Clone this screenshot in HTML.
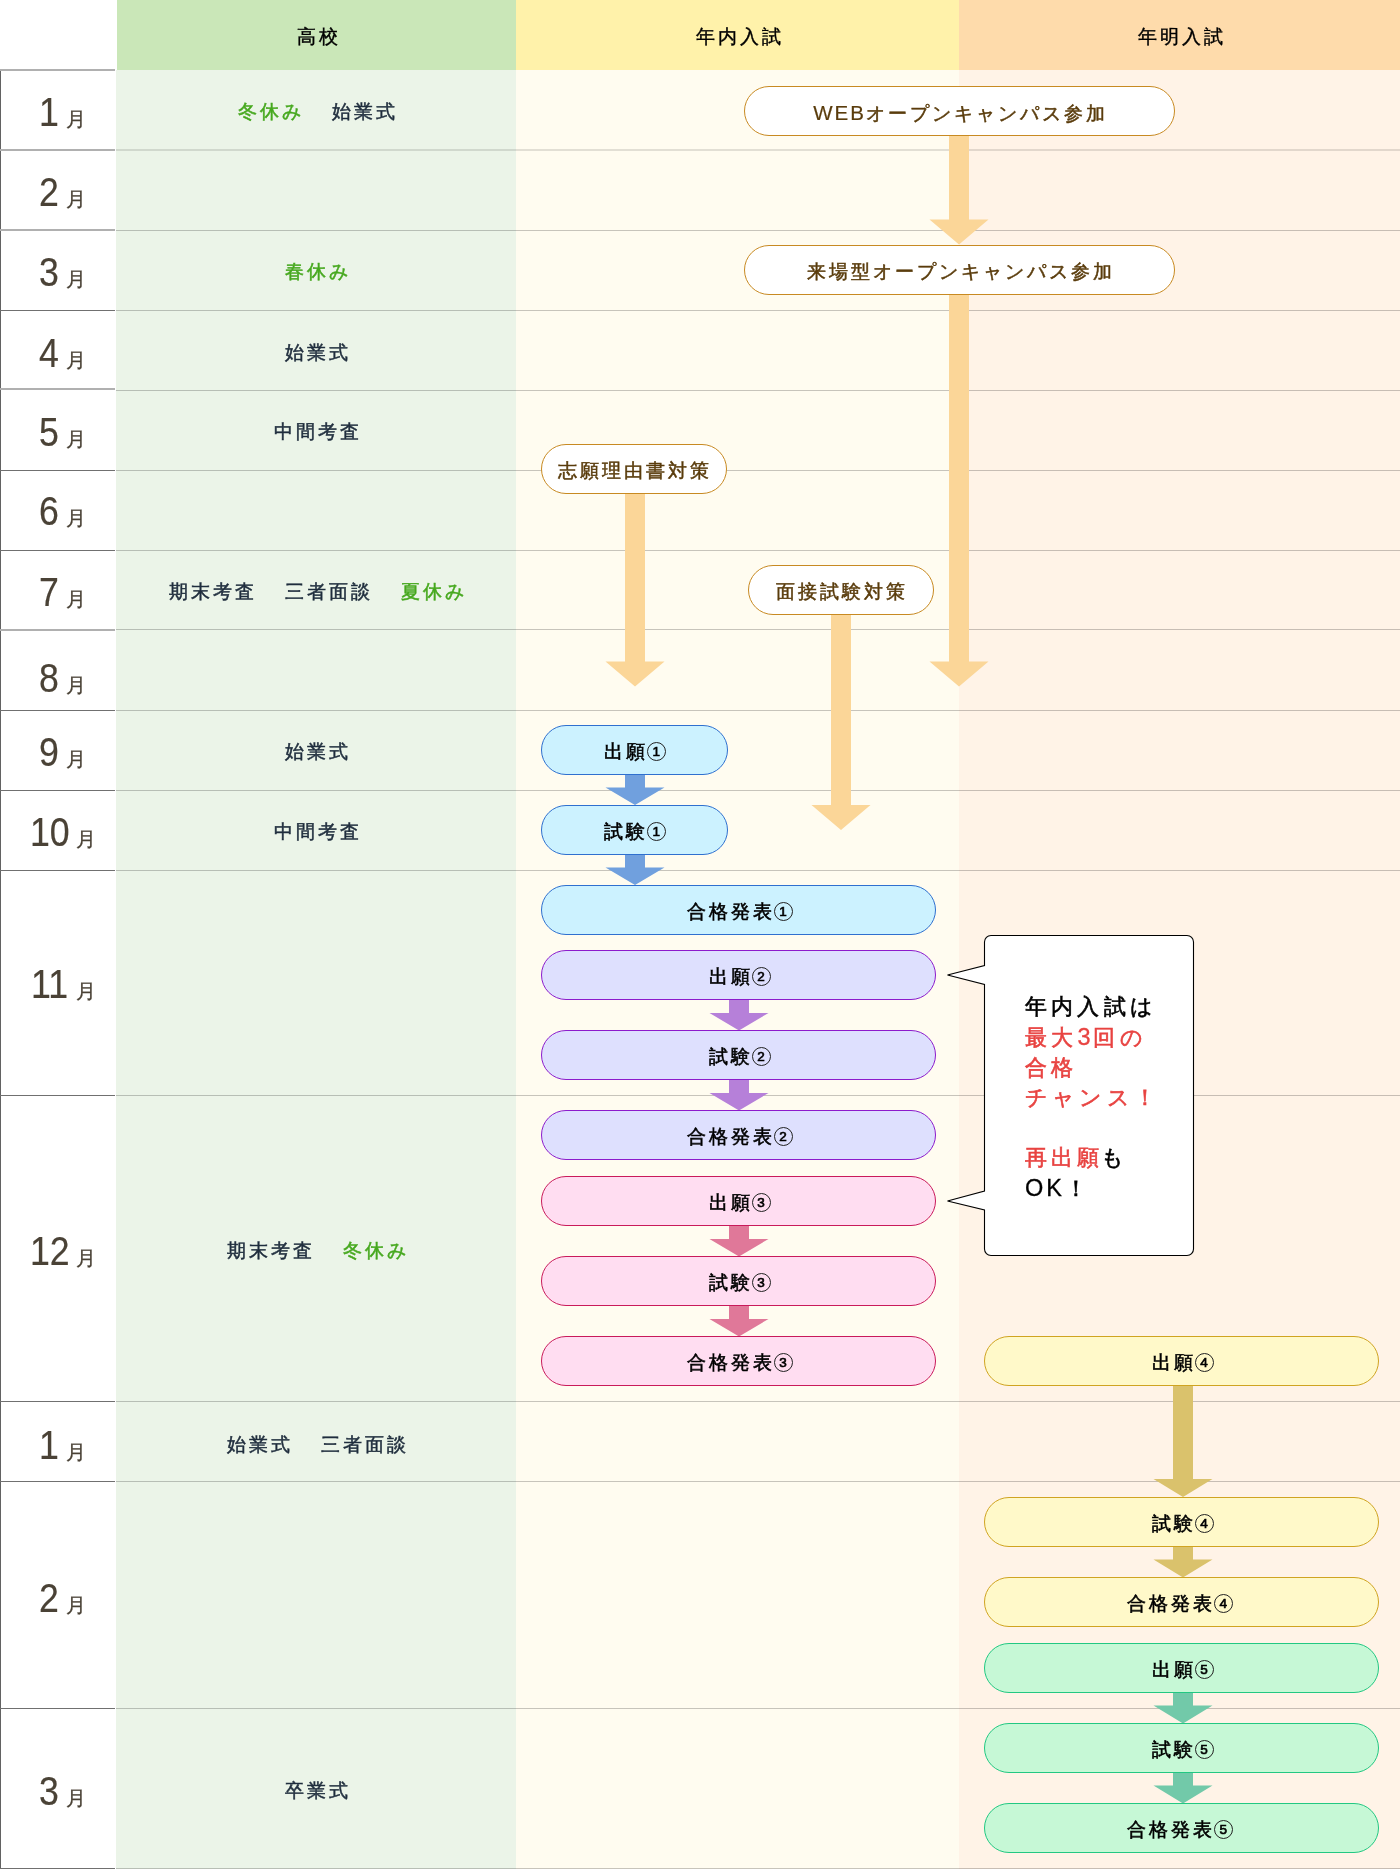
<!DOCTYPE html>
<html lang="ja">
<head>
<meta charset="utf-8">
<style>
*{box-sizing:border-box;margin:0;padding:0}
html,body{width:1400px;height:1869px;overflow:hidden;background:#fff}
body{position:relative;font-family:"Liberation Sans",sans-serif;color:#111}
.a{position:absolute}
.hd{position:absolute;top:0;height:70px;line-height:70px;text-align:center;font-size:19px;letter-spacing:3px;color:#000;-webkit-text-stroke:0.4px #000;padding-left:5px;padding-top:2px}
.bg{position:absolute;top:70px;height:1799px}
.ml{position:absolute;left:0;width:116px;height:2px;background:#adadad}
.rl{position:absolute;left:116px;width:1284px;height:1px;background:#c4c4bc}
.mo{position:absolute;left:0;width:116px;text-align:center;color:#4a4236;white-space:nowrap;padding-left:9px;padding-top:1px}
.mo b{display:inline-block;font-weight:400;font-size:41px;letter-spacing:0;transform:scaleX(0.87);transform-origin:0 50%;-webkit-text-stroke:0.2px #4a4236}
.mo i{font-style:normal;font-size:20px;margin-left:7px;-webkit-text-stroke:0.3px #4a4236}
.sc{position:absolute;left:116px;width:400px;text-align:center;font-size:19px;letter-spacing:3px;color:#1f2d3d;white-space:nowrap;-webkit-text-stroke:0.5px #1f2d3d;padding-top:1px;padding-left:3px}
.sc .g{color:#46a81e;-webkit-text-stroke:0.5px #46a81e}
.sc span+span{margin-left:28px}
.bx{position:absolute;height:50px;border-radius:25px;border:1px solid;text-align:center;line-height:48px;font-size:19px;letter-spacing:3px;white-space:nowrap;color:#000;-webkit-text-stroke:0.55px currentColor;padding-top:2px;padding-left:2px}
.w{background:#fff;border-color:#c88a22;color:#5a3c0c}
.b1{background:#ccf2ff;border-color:#2f70cf}
.p2{background:#dee0fe;border-color:#8c1ccc}
.k3{background:#ffddf1;border-color:#c91a5b}
.y4{background:#fff9c9;border-color:#d0a421}
.y4o{background:#fff9c9;border-color:#d0a421}
.g5{background:#c6f8d6;border-color:#22c882}
.bub{position:absolute;left:1025px;top:992px;font-size:22px;line-height:30px;letter-spacing:4.2px;color:#000;white-space:nowrap;-webkit-text-stroke:0.6px currentColor}
.bub .r{color:#e84341}
#wrap{position:absolute;left:0;top:0;width:1400px;height:1869px;will-change:transform;background:#fff}
.cn{display:inline-block;width:19px;height:19px;border:1px solid #222;border-radius:50%;font-size:13.5px;line-height:17px;text-align:center;letter-spacing:0;-webkit-text-stroke:0.65px #000;vertical-align:2px;margin-left:-1px;text-indent:0;position:relative;top:0}
.w{-webkit-text-stroke:0.5px currentColor}
.lat{font-size:20.5px;-webkit-text-stroke:0.2px currentColor;letter-spacing:2px}
.bl{font-size:23.5px;-webkit-text-stroke:0.3px currentColor;letter-spacing:3px}

</style>
</head>
<body>
<div id="wrap">
<div class="a" style="left:117px;top:0;width:399px;height:70px;background:#cae7b8"></div>
<div class="a" style="left:516px;top:0;width:443px;height:70px;background:#fff2aa"></div>
<div class="a" style="left:959px;top:0;width:441px;height:70px;background:#fedbab"></div>
<div class="bg" style="left:116px;width:400px;background:#ebf4e8"></div>
<div class="bg" style="left:516px;width:443px;background:#fffcf0"></div>
<div class="bg" style="left:959px;width:441px;background:#fff3e7"></div>
<div class="hd" style="left:116px;width:400px">高校</div>
<div class="hd" style="left:516px;width:443px">年内入試</div>
<div class="hd" style="left:959px;width:441px">年明入試</div>
<div class="a" style="left:0;top:71px;width:1px;height:1798px;background:#626262"></div>
<div class="a" style="left:0;top:69px;width:115px;height:2px;background:#b0b0b0"></div>
<div class="a" style="left:0;top:149px;width:115px;height:2px;background:#b0b0b0"></div>
<div class="a" style="left:0;top:229px;width:115px;height:2px;background:#b0b0b0"></div>
<div class="a" style="left:0;top:310px;width:115px;height:1px;background:#707070"></div>
<div class="a" style="left:0;top:388px;width:115px;height:2px;background:#b0b0b0"></div>
<div class="a" style="left:0;top:470px;width:115px;height:1px;background:#707070"></div>
<div class="a" style="left:0;top:550px;width:115px;height:1px;background:#707070"></div>
<div class="a" style="left:0;top:629px;width:115px;height:2px;background:#b0b0b0"></div>
<div class="a" style="left:0;top:710px;width:115px;height:1px;background:#707070"></div>
<div class="a" style="left:0;top:790px;width:115px;height:1px;background:#707070"></div>
<div class="a" style="left:0;top:870px;width:115px;height:1px;background:#707070"></div>
<div class="a" style="left:0;top:1095px;width:115px;height:1px;background:#707070"></div>
<div class="a" style="left:0;top:1401px;width:115px;height:1px;background:#707070"></div>
<div class="a" style="left:0;top:1481px;width:115px;height:1px;background:#707070"></div>
<div class="a" style="left:0;top:1708px;width:115px;height:1px;background:#707070"></div>
<div class="a" style="left:0;top:1868px;width:115px;height:1px;background:#707070"></div>
<div class="a" style="left:116px;top:149px;width:1284px;height:2px;background:rgba(0,0,0,0.115)"></div>
<div class="a" style="left:116px;top:230px;width:1284px;height:1px;background:rgba(0,0,0,0.22)"></div>
<div class="a" style="left:116px;top:310px;width:1284px;height:1px;background:rgba(0,0,0,0.22)"></div>
<div class="a" style="left:116px;top:390px;width:1284px;height:1px;background:rgba(0,0,0,0.22)"></div>
<div class="a" style="left:116px;top:470px;width:1284px;height:1px;background:rgba(0,0,0,0.22)"></div>
<div class="a" style="left:116px;top:550px;width:1284px;height:1px;background:rgba(0,0,0,0.22)"></div>
<div class="a" style="left:116px;top:629px;width:1284px;height:1px;background:rgba(0,0,0,0.22)"></div>
<div class="a" style="left:116px;top:710px;width:1284px;height:1px;background:rgba(0,0,0,0.22)"></div>
<div class="a" style="left:116px;top:790px;width:1284px;height:1px;background:rgba(0,0,0,0.22)"></div>
<div class="a" style="left:116px;top:870px;width:1284px;height:1px;background:rgba(0,0,0,0.22)"></div>
<div class="a" style="left:116px;top:1095px;width:1284px;height:1px;background:rgba(0,0,0,0.22)"></div>
<div class="a" style="left:116px;top:1401px;width:1284px;height:1px;background:rgba(0,0,0,0.22)"></div>
<div class="a" style="left:116px;top:1481px;width:1284px;height:1px;background:rgba(0,0,0,0.22)"></div>
<div class="a" style="left:116px;top:1708px;width:1284px;height:1px;background:rgba(0,0,0,0.22)"></div>
<div class="a" style="left:116px;top:1868px;width:1284px;height:1px;background:rgba(0,0,0,0.22)"></div>
<div class="mo" style="top:70.5px;height:80px;line-height:80px;padding-left:9px"><b style="margin-right:-2.96px">1</b><i>月</i></div>
<div class="mo" style="top:151px;height:80px;line-height:80px;padding-left:9px"><b style="margin-right:-2.96px">2</b><i>月</i></div>
<div class="mo" style="top:231px;height:80px;line-height:80px;padding-left:9px"><b style="margin-right:-2.96px">3</b><i>月</i></div>
<div class="mo" style="top:312px;height:80px;line-height:80px;padding-left:9px"><b style="margin-right:-2.96px">4</b><i>月</i></div>
<div class="mo" style="top:391px;height:80px;line-height:80px;padding-left:9px"><b style="margin-right:-2.96px">5</b><i>月</i></div>
<div class="mo" style="top:470px;height:80px;line-height:80px;padding-left:9px"><b style="margin-right:-2.96px">6</b><i>月</i></div>
<div class="mo" style="top:550.5px;height:80px;line-height:80px;padding-left:9px"><b style="margin-right:-2.96px">7</b><i>月</i></div>
<div class="mo" style="top:636.5px;height:80px;line-height:80px;padding-left:9px"><b style="margin-right:-2.96px">8</b><i>月</i></div>
<div class="mo" style="top:711px;height:80px;line-height:80px;padding-left:9px"><b style="margin-right:-2.96px">9</b><i>月</i></div>
<div class="mo" style="top:791px;height:80px;line-height:80px;padding-left:10px"><b style="margin-right:-5.93px">10</b><i>月</i></div>
<div class="mo" style="top:871px;height:225px;line-height:225px;padding-left:11px"><b style="margin-right:-4.43px">11</b><i>月</i></div>
<div class="mo" style="top:1096.5px;height:306px;line-height:306px;padding-left:10px"><b style="margin-right:-5.93px">12</b><i>月</i></div>
<div class="mo" style="top:1403.5px;height:80px;line-height:80px;padding-left:9px"><b style="margin-right:-2.96px">1</b><i>月</i></div>
<div class="mo" style="top:1484px;height:227px;line-height:227px;padding-left:9px"><b style="margin-right:-2.96px">2</b><i>月</i></div>
<div class="mo" style="top:1710px;height:160px;line-height:160px;padding-left:9px"><b style="margin-right:-2.96px">3</b><i>月</i></div>
<div class="sc" style="top:70.5px;height:80.0px;line-height:80.0px"><span class="g">冬休み</span><span class="">始業式</span></div>
<div class="sc" style="top:231px;height:80px;line-height:80px"><span class="g">春休み</span></div>
<div class="sc" style="top:312px;height:80px;line-height:80px"><span class="">始業式</span></div>
<div class="sc" style="top:391px;height:80px;line-height:80px"><span class="">中間考査</span></div>
<div class="sc" style="top:550.5px;height:80.0px;line-height:80.0px"><span class="">期末考査</span><span class="">三者面談</span><span class="g">夏休み</span></div>
<div class="sc" style="top:711px;height:80px;line-height:80px"><span class="">始業式</span></div>
<div class="sc" style="top:791px;height:80px;line-height:80px"><span class="">中間考査</span></div>
<div class="sc" style="top:1096.5px;height:306.0px;line-height:306.0px"><span class="">期末考査</span><span class="g">冬休み</span></div>
<div class="sc" style="top:1403.5px;height:80.0px;line-height:80.0px"><span class="">始業式</span><span class="">三者面談</span></div>
<div class="sc" style="top:1710px;height:160px;line-height:160px"><span class="">卒業式</span></div>
<svg class="a" style="left:928px;top:135px;overflow:visible" width="62" height="110" viewBox="0 0 62 110"><path d="M21.0,0H41.0V84.5H60.5L31,109.5L1.5,84.5H21.0Z" fill="#fbd698"/></svg>
<svg class="a" style="left:928px;top:294px;overflow:visible" width="62" height="393" viewBox="0 0 62 393"><path d="M21.0,0H41.0V367.5H60.5L31,392.5L1.5,367.5H21.0Z" fill="#fbd698"/></svg>
<svg class="a" style="left:604px;top:493px;overflow:visible" width="62" height="194" viewBox="0 0 62 194"><path d="M21.0,0H41.0V168.5H60.5L31,193.5L1.5,168.5H21.0Z" fill="#fbd698"/></svg>
<svg class="a" style="left:810px;top:614px;overflow:visible" width="62" height="216" viewBox="0 0 62 216"><path d="M21.0,0H41.0V191H60.5L31,216L1.5,191H21.0Z" fill="#fbd698"/></svg>
<svg class="a" style="left:604px;top:774px;overflow:visible" width="62" height="31" viewBox="0 0 62 31"><path d="M21.0,0H41.0V13.5H60.5L31,31L1.5,13.5H21.0Z" fill="#70a0de"/></svg>
<svg class="a" style="left:604px;top:854px;overflow:visible" width="62" height="31" viewBox="0 0 62 31"><path d="M21.0,0H41.0V13.5H60.5L31,31L1.5,13.5H21.0Z" fill="#70a0de"/></svg>
<svg class="a" style="left:708px;top:999px;overflow:visible" width="62" height="32" viewBox="0 0 62 32"><path d="M21.0,0H41.0V14.0H60.5L31,31.5L1.5,14.0H21.0Z" fill="#b680d9"/></svg>
<svg class="a" style="left:708px;top:1079px;overflow:visible" width="62" height="32" viewBox="0 0 62 32"><path d="M21.0,0H41.0V14.0H60.5L31,31.5L1.5,14.0H21.0Z" fill="#b680d9"/></svg>
<svg class="a" style="left:708px;top:1225px;overflow:visible" width="62" height="32" viewBox="0 0 62 32"><path d="M21.0,0H41.0V14.0H60.5L31,31.5L1.5,14.0H21.0Z" fill="#e07899"/></svg>
<svg class="a" style="left:708px;top:1305px;overflow:visible" width="62" height="32" viewBox="0 0 62 32"><path d="M21.0,0H41.0V14.0H60.5L31,31.5L1.5,14.0H21.0Z" fill="#e07899"/></svg>
<svg class="a" style="left:1152px;top:1385px;overflow:visible" width="62" height="112" viewBox="0 0 62 112"><path d="M21.0,0H41.0V94H60.5L31,112L1.5,94H21.0Z" fill="#dac26c"/></svg>
<svg class="a" style="left:1152px;top:1546px;overflow:visible" width="62" height="32" viewBox="0 0 62 32"><path d="M21.0,0H41.0V13.5H60.5L31,31.5L1.5,13.5H21.0Z" fill="#dac26c"/></svg>
<svg class="a" style="left:1152px;top:1692px;overflow:visible" width="62" height="32" viewBox="0 0 62 32"><path d="M21.0,0H41.0V13.5H60.5L31,31.5L1.5,13.5H21.0Z" fill="#72c9a9"/></svg>
<svg class="a" style="left:1152px;top:1772px;overflow:visible" width="62" height="32" viewBox="0 0 62 32"><path d="M21.0,0H41.0V13.5H60.5L31,31.5L1.5,13.5H21.0Z" fill="#72c9a9"/></svg>
<div class="bx w" style="left:744px;top:86px;width:431px"><span class="lat">WEB</span>オープンキャンパス参加</div>
<div class="bx w" style="left:744px;top:245px;width:431px">来場型オープンキャンパス参加</div>
<div class="bx w" style="left:541px;top:444px;width:186px">志願理由書対策</div>
<div class="bx w" style="left:748px;top:565px;width:186px">面接試験対策</div>
<div class="bx b1" style="left:541px;top:725px;width:187px;text-indent:-1.5px">出願<span class="cn">1</span></div>
<div class="bx b1" style="left:541px;top:805px;width:187px;text-indent:-1.5px">試験<span class="cn">1</span></div>
<div class="bx b1" style="left:541px;top:885px;width:395px">合格発表<span class="cn">1</span></div>
<div class="bx p2" style="left:541px;top:950px;width:395px">出願<span class="cn">2</span></div>
<div class="bx p2" style="left:541px;top:1030px;width:395px">試験<span class="cn">2</span></div>
<div class="bx p2" style="left:541px;top:1110px;width:395px">合格発表<span class="cn">2</span></div>
<div class="bx k3" style="left:541px;top:1176px;width:395px">出願<span class="cn">3</span></div>
<div class="bx k3" style="left:541px;top:1256px;width:395px">試験<span class="cn">3</span></div>
<div class="bx k3" style="left:541px;top:1336px;width:395px">合格発表<span class="cn">3</span></div>
<div class="bx y4" style="left:984px;top:1336px;width:395px">出願<span class="cn">4</span></div>
<div class="bx y4" style="left:984px;top:1497px;width:395px">試験<span class="cn">4</span></div>
<div class="bx y4o" style="left:984px;top:1577px;width:395px;text-indent:-5.5px">合格発表<span class="cn">4</span></div>
<div class="bx g5" style="left:984px;top:1643px;width:395px">出願<span class="cn">5</span></div>
<div class="bx g5" style="left:984px;top:1723px;width:395px">試験<span class="cn">5</span></div>
<div class="bx g5" style="left:984px;top:1803px;width:395px;text-indent:-5.5px">合格発表<span class="cn">5</span></div>
<svg class="a" style="left:0;top:0" width="1400" height="1869"><path d="M991.0,935.5H1187.0A6.5,6.5 0 0 1 1193.5,942.0V1249.0A6.5,6.5 0 0 1 1187.0,1255.5H991.0A6.5,6.5 0 0 1 984.5,1249.0V1210L947.5,1201L984.5,1191V984.5L947.5,975L984.5,965.5V942.0A6.5,6.5 0 0 1 991.0,935.5Z" fill="#fff" stroke="#000" stroke-width="1.1"/></svg>
<div class="bub"><span>年内入試は</span><br><span class="r">最大<span class="bl">3</span>回の</span><br><span class="r">合格</span><br><span class="r">チャンス！</span><br><br><span class="r">再出願</span><span style="margin-left:-2.5px">も</span><br><span class="bl">OK</span><span>！</span></div>
</div>
</body>
</html>
